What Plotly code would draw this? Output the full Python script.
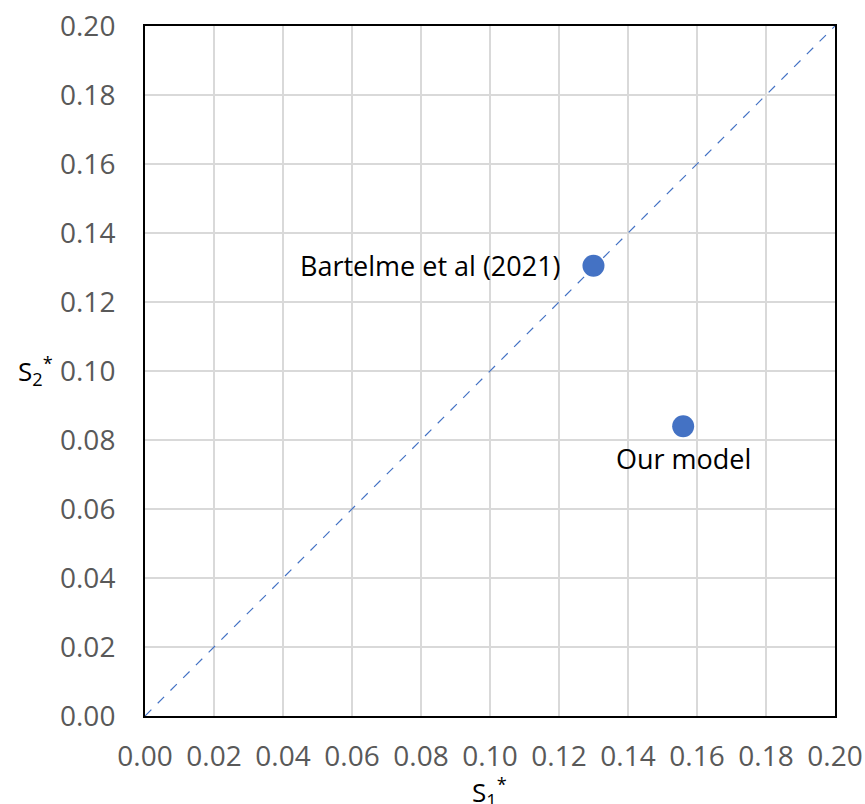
import plotly.graph_objects as go

# Data
labels = ["Bartelme et al (2021)", "Our model"]
s1 = [0.130, 0.156]
s2 = [0.1305, 0.084]
diag_x = [0.0, 0.2]
diag_y = [0.0, 0.2]
tick_vals = [0.00, 0.02, 0.04, 0.06, 0.08, 0.10, 0.12, 0.14, 0.16, 0.18, 0.20]

blue = "#4472C4"
font_family = "Open Sans, Liberation Sans, sans-serif"

fig = go.Figure()
fig.add_trace(go.Scatter(x=diag_x, y=diag_y, mode="lines",
                         line=dict(color=blue, width=1.2, dash="dash"),
                         showlegend=False, hoverinfo="skip"))
fig.add_trace(go.Scatter(x=s1, y=s2, mode="markers",
                         marker=dict(color=blue, size=22),
                         showlegend=False))

# point labels
fig.add_annotation(x=s1[0], y=s2[0], text=labels[0], showarrow=False,
                   xanchor="right", yanchor="middle", xshift=-30,
                   font=dict(size=27, color="#000000", family=font_family))
fig.add_annotation(x=s1[1], y=s2[1], text=labels[1], showarrow=False,
                   xanchor="center", yanchor="top", yshift=-12,
                   font=dict(size=27, color="#000000", family=font_family))

# axis titles
fig.add_annotation(x=0, y=0.1, xref="paper", yref="y", text="S<sub>2</sub><sup>*</sup>",
                   showarrow=False, xanchor="right", yanchor="middle", xshift=-90,
                   font=dict(size=26, color="#000000", family=font_family))
fig.add_annotation(x=0.1, y=0, xref="x", yref="paper", text="S<sub>1</sub><sup>*</sup>",
                   showarrow=False, xanchor="center", yanchor="top", yshift=-54,
                   font=dict(size=26, color="#000000", family=font_family))

axis_common = dict(range=[0, 0.20001], tickvals=tick_vals, tickformat=".2f",
                   showgrid=True, gridcolor="#D9D9D9", gridwidth=1.5,
                   showline=True, linecolor="#000000", linewidth=2, mirror=True,
                   zeroline=False, ticks="", ticklabeloverflow="allow",
                   automargin=False,
                   tickfont=dict(size=28, color="#595959", family=font_family))

fig.update_xaxes(**axis_common, ticklabelstandoff=14)
fig.update_yaxes(**axis_common, ticklabelstandoff=22)

fig.update_layout(width=865, height=804,
                  margin=dict(l=145, r=30, t=26, b=88, autoexpand=False),
                  plot_bgcolor="white", paper_bgcolor="white")

fig.write_html("out.html", config={"displayModeBar": False},
               post_script="document.body.style.margin='0';document.body.style.overflow='hidden';")
